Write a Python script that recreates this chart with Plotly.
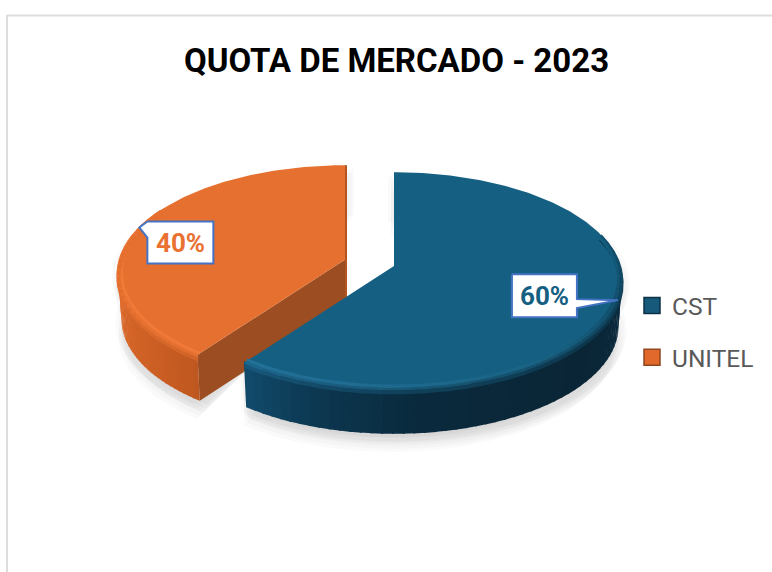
import numpy as np
import plotly.graph_objects as go

# ---- data ----
categories = ["CST", "UNITEL"]
shares = [60, 40]
title_text = "QUOTA DE MERCADO - 2023"

# ---- style / view ----
W, H = 772, 572
TOP_BLUE, TOP_ORANGE = "#156082", "#E5702F"
LABEL_COLOR = {"CST": "#156082", "UNITEL": "#E97132"}
LEGEND_COLOR = {"CST": "#17597A", "UNITEL": "#E0692B"}
LEGEND_EDGE = {"CST": "#0C3247", "UNITEL": "#8F4720"}
A, B, P = 226, 106, 0.13      # perspective projection of the pie disc
DEPTH = 46
BOTTOM_SCALE = 0.985
CENTER = {"CST": (394, 266), "UNITEL": (346, 259)}


def proj(theta_deg, c, r=1.0, depth=0.0):
    t = np.radians(theta_deg)
    k = r / (1 + P * np.cos(t))
    s = 1 - (1 - BOTTOM_SCALE) * depth / DEPTH
    return c[0] + s * A * np.sin(t) * k, c[1] - B * np.cos(t) * k + depth


def hex_rgb(h):
    return np.array([int(h[i:i + 2], 16) for i in (1, 3, 5)], float)


def ramp_rgb(theta, stops):
    xs = [s[0] for s in stops]
    cols = np.array([hex_rgb(s[1]) for s in stops])
    return np.array([np.interp(theta, xs, cols[:, i]) for i in range(3)])


def css(v):
    return "rgb(%d,%d,%d)" % tuple(v)


def ramp(theta, stops):
    return css(ramp_rgb(theta, stops))


fig = go.Figure()


def poly(x, y, color, line=0):
    fig.add_trace(go.Scatter(
        x=list(x), y=list(y), mode="lines", fill="toself", fillcolor=color,
        line=dict(color=color, width=line), hoverinfo="skip", showlegend=False))


def path(x, y, color, width):
    fig.add_trace(go.Scatter(
        x=list(x), y=list(y), mode="lines", line=dict(color=color, width=width),
        hoverinfo="skip", showlegend=False))


# slice angles come straight from the values, clockwise from 12 o'clock
total = sum(shares)
edges = np.cumsum([0] + shares) * 360.0 / total
span = {c: (edges[i], edges[i + 1]) for i, c in enumerate(categories)}
mid = {c: (edges[i] + edges[i + 1]) / 2 for i, c in enumerate(categories)}

WALL = {
    "CST": [(90, "#0B2D42"), (130, "#0A2636"), (175, "#0A2A3D"), (200, "#0D3A54"), (216, "#114B6C")],
    "UNITEL": [(216, "#BF5820"), (235, "#CF6126"), (265, "#DE6A2B"), (300, "#E46E2F"), (360, "#E46E2F")],
}
RIM = {
    "CST": [(70, "#156082"), (110, "#134F6C"), (150, "#1A6486"), (216, "#24729A")],
    "UNITEL": [(216, "#F27A38"), (260, "#F17937"), (300, "#E5702F"), (360, "#E5702F")],
}

# soft drop shadow
for name in ["UNITEL", "CST"]:
    a, b = span[name]
    c = CENTER[name]
    th = np.linspace(a, b, 120)
    for dx, dy in [(-6, 4), (-3, 8), (0, 10), (3, 12), (6, 8), (8, 4), (0, 15), (-3, 18)]:
        tx, ty = proj(th, c)
        bx, by = proj(th[::-1], c, depth=DEPTH)
        xs = np.r_[c[0], tx, bx, c[0]] + dx
        ys = np.r_[c[1], ty, by, c[1]] + dy
        poly(xs, ys, "rgba(60,60,70,0.028)")


def draw_slice(name, top_color):
    a, b = span[name]
    c = CENTER[name]
    # outer wall as narrow strips, shaded by angle
    steps = np.arange(a, b + 0.01, (b - a) / 90)
    for s, e in zip(steps[:-1], steps[1:]):
        m = (s + e) / 2
        if not 80 <= m <= 300:
            continue
        th = np.linspace(s, e + 0.5, 3)
        tx, ty = proj(th, c)
        bx, by = proj(th[::-1], c, depth=DEPTH)
        poly(np.r_[tx, bx], np.r_[ty, by], ramp(m, WALL[name]))
    # top face
    th = np.linspace(a, b, 240)
    tx, ty = proj(th, c)
    poly(np.r_[c[0], tx, c[0]], np.r_[c[1], ty, c[1]], top_color)
    # bevel: highlight on the face and soft fade on the wall, along the front rim
    for s, e in zip(steps[:-1:2], steps[2::2]):
        m = (s + e) / 2
        if 70 <= m <= 300:
            th = np.linspace(s, e + 0.3, 4)
            col = ramp_rgb(m, RIM[name])
            wall = ramp_rgb(np.clip(m, 80, 300), WALL[name])
            rx, ry = proj(th, c, depth=4.5)
            path(rx, ry, css(0.35 * col + 0.65 * wall), 4)
            rx, ry = proj(th, c, depth=1.0)
            path(rx, ry, css(0.7 * col + 0.3 * wall), 3)
            rx, ry = proj(th, c, r=0.985)
            path(rx, ry, css(col), 3)


# UNITEL goes behind CST; its inner cut wall is visible
ua, ub = span["UNITEL"]
uc = CENTER["UNITEL"]
cx0, cy0 = proj(ua, uc)
cx1, cy1 = proj(ua, uc, depth=DEPTH)
poly([uc[0], cx0, cx1, uc[0]], [uc[1], cy0, cy1, uc[1] + DEPTH], "#9C4D22")
draw_slice("UNITEL", TOP_ORANGE)
ex, ey = proj(ub, uc)
path([uc[0], ex], [uc[1], ey], "#B4541F", 2)
path([uc[0], uc[0]], [uc[1], uc[1] + DEPTH], "#B4541F", 2)
draw_slice("CST", TOP_BLUE)

# callouts whose tail tips sit on the rim at each slice's mid-angle
tipx, tipy = proj(mid["CST"], CENTER["CST"])
bx0, bx1, by0, by1 = tipx - 106, tipx - 41, tipy - 26, tipy + 17
cst_x = [bx0, bx1, bx1, tipx, bx1, bx1, bx0, bx0]
cst_y = [by0, by0, tipy - 1, tipy, tipy + 8, by1, by1, by0]
fig.add_trace(go.Scatter(x=cst_x, y=cst_y, mode="lines", fill="toself", fillcolor="white",
                         line=dict(color="#4472C4", width=2), hoverinfo="skip", showlegend=False))
fig.add_annotation(x=(bx0 + bx1) / 2, y=(by0 + by1) / 2,
                   text="<b>%d%%</b>" % shares[0], showarrow=False,
                   font=dict(family="Roboto", size=26, color=LABEL_COLOR["CST"]))

tipx, tipy = proj(mid["UNITEL"], CENTER["UNITEL"])
bx0, bx1, by0, by1 = tipx + 8, tipx + 74, tipy - 6, tipy + 36
un_x = [bx0, bx1, bx1, bx0, bx0, tipx, bx0]
un_y = [by0, by0, by1, by1, tipy + 10, tipy, by0]
fig.add_trace(go.Scatter(x=un_x, y=un_y, mode="lines", fill="toself", fillcolor="white",
                         line=dict(color="#4472C4", width=2), hoverinfo="skip", showlegend=False))
fig.add_annotation(x=(bx0 + bx1) / 2, y=(by0 + by1) / 2,
                   text="<b>%d%%</b>" % shares[1], showarrow=False,
                   font=dict(family="Roboto", size=26, color=LABEL_COLOR["UNITEL"]))

# legend entries
for i, name in enumerate(categories):
    fig.add_trace(go.Scatter(x=[None], y=[None], mode="markers", name=name, legendgroup=name,
                             marker=dict(symbol="square", size=16, color=LEGEND_COLOR[name],
                                         line=dict(color=LEGEND_EDGE[name], width=1.5)),
                             hoverinfo="skip"))

fig.update_layout(
    width=W, height=H, margin=dict(l=0, r=0, t=0, b=0),
    paper_bgcolor="white", plot_bgcolor="white",
    title=dict(text="<b>%s</b>" % title_text, x=396.5 / W, xanchor="center", y=1 - 60 / H, yanchor="middle",
               font=dict(family="Roboto", size=33, color="#000000")),
    xaxis=dict(visible=False, range=[0, W], fixedrange=True),
    yaxis=dict(visible=False, range=[H, 0], fixedrange=True),
    legend=dict(x=632 / W, y=1 - 283 / H, xanchor="left", yanchor="top", tracegroupgap=17,
                font=dict(family="Roboto", size=24.5, color="#595959"),
                bgcolor="rgba(0,0,0,0)", itemclick=False, itemdoubleclick=False),
    shapes=[
        dict(type="line", xref="paper", yref="paper", x0=7 / W, x1=1, y0=1 - 15.5 / H, y1=1 - 15.5 / H,
             line=dict(color="#DDDDDD", width=2)),
        dict(type="line", xref="paper", yref="paper", x0=7 / W, x1=7 / W, y0=1 - 15 / H, y1=0,
             line=dict(color="#DDDDDD", width=2)),
    ],
)

fig.write_html("out.html", config={"displayModeBar": False},
               post_script="document.body.style.margin='0';document.body.style.overflow='hidden';")
